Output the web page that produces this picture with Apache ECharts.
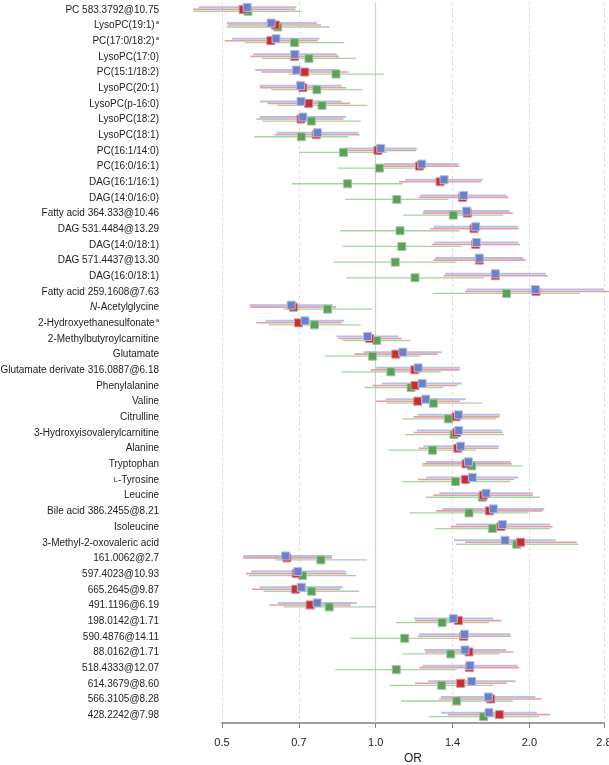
<!DOCTYPE html>
<html><head><meta charset="utf-8">
<script src="https://cdn.jsdelivr.net/npm/echarts@6/dist/echarts.min.js"></script>
<style>html,body{margin:0;padding:0;background:#fff}#c{width:609px;height:765px}</style>
</head><body><div id="c"></div>
<script>
const categories = [
 'PC 583.3792@10.75','LysoPC(19:1)','PC(17:0/18:2)','LysoPC(17:0)','PC(15:1/18:2)','LysoPC(20:1)',
 'LysoPC(p-16:0)','LysoPC(18:2)','LysoPC(18:1)','PC(16:1/14:0)','PC(16:0/16:1)','DAG(16:1/16:1)',
 'DAG(14:0/16:0)','Fatty acid 364.333@10.46','DAG 531.4484@13.29','DAG(14:0/18:1)','DAG 571.4437@13.30',
 'DAG(16:0/18:1)','Fatty acid 259.1608@7.63','N-Acetylglycine','2-Hydroxyethanesulfonate',
 '2-Methylbutyroylcarnitine','Glutamate','Glutamate derivate 316.0887@6.18','Phenylalanine','Valine',
 'Citrulline','3-Hydroxyisovalerylcarnitine','Alanine','Tryptophan','L-Tyrosine','Leucine',
 'Bile acid 386.2455@8.21','Isoleucine','3-Methyl-2-oxovaleric acid','161.0062@2.7','597.4023@10.93',
 '665.2645@9.87','491.1196@6.19','198.0142@1.71','590.4876@14.11','88.0162@1.71','518.4333@12.07',
 '614.3679@8.60','566.3105@8.28','428.2242@7.98'
];
const superscriptA = ['LysoPC(19:1)','PC(17:0/18:2)','2-Hydroxyethanesulfonate'];
const xTickLabels = ['0.5','0.7','1.0','1.4','2.0','2.8'];

const blueEst = [0.560,0.624,0.638,0.694,0.699,0.713,0.714,0.720,0.769,1.023,1.231,1.361,1.487,1.507,1.570,1.575,1.596,1.715,2.054,0.683,0.727,0.964,1.130,1.211,1.233,1.253,1.452,1.454,1.467,1.519,1.546,1.645,1.700,1.773,1.792,0.666,0.704,0.715,0.768,1.419,1.492,1.496,1.530,1.542,1.662,1.667];
const blueLo  = [0.450,0.511,0.523,0.575,0.581,0.592,0.593,0.593,0.640,0.865,1.036,1.142,1.223,1.240,1.297,1.301,1.307,1.367,1.507,0.566,0.608,0.839,0.946,1.002,1.028,1.048,1.209,1.204,1.240,1.255,1.255,1.333,1.351,1.437,1.424,0.550,0.570,0.593,0.643,1.189,1.216,1.246,1.236,1.265,1.341,1.343];
const blueHi  = [0.699,0.767,0.776,0.839,0.849,0.858,0.858,0.874,0.925,1.204,1.452,1.620,1.805,1.827,1.902,1.902,1.946,2.152,2.798,0.824,0.868,1.108,1.347,1.463,1.474,1.500,1.752,1.765,1.744,1.838,1.902,2.030,2.139,2.194,2.251,0.821,0.875,0.862,0.918,1.700,1.838,1.800,1.897,1.880,2.057,2.066];

const redEst = [0.550,0.636,0.623,0.694,0.726,0.720,0.739,0.714,0.765,1.010,1.218,1.337,1.480,1.512,1.558,1.570,1.596,1.715,2.060,0.690,0.706,0.973,1.095,1.193,1.194,1.209,1.437,1.441,1.448,1.503,1.500,1.625,1.670,1.760,1.923,0.670,0.699,0.697,0.744,1.452,1.487,1.523,1.526,1.467,1.680,1.747];
const redLo  = [0.439,0.514,0.506,0.568,0.597,0.593,0.614,0.584,0.634,0.856,1.028,1.111,1.213,1.236,1.278,1.287,1.297,1.357,1.496,0.568,0.584,0.846,0.908,0.978,0.986,1.002,1.186,1.186,1.213,1.235,1.209,1.297,1.313,1.403,1.496,0.550,0.557,0.572,0.620,1.194,1.209,1.250,1.218,1.194,1.331,1.384];
const redHi  = [0.696,0.781,0.770,0.847,0.885,0.874,0.891,0.865,0.930,1.200,1.459,1.608,1.819,1.855,1.908,1.917,1.966,2.171,2.870,0.837,0.858,1.125,1.321,1.459,1.445,1.463,1.747,1.773,1.739,1.847,1.866,2.030,2.123,2.221,2.475,0.821,0.878,0.852,0.894,1.765,1.838,1.860,1.911,1.805,2.113,2.194];

const greenEst = [0.562,0.643,0.693,0.740,0.836,0.767,0.785,0.748,0.715,0.865,1.017,0.881,1.100,1.419,1.116,1.125,1.092,1.194,1.805,0.805,0.759,1.005,0.986,1.071,1.173,1.297,1.388,1.424,1.292,1.542,1.433,1.618,1.523,1.692,1.889,0.781,0.719,0.749,0.811,1.349,1.140,1.403,1.097,1.347,1.441,1.627];
const greenLo  = [0.440,0.510,0.554,0.599,0.675,0.624,0.640,0.599,0.578,0.709,0.842,0.685,0.871,1.133,0.852,0.861,0.827,0.875,1.293,0.660,0.617,0.862,0.794,0.856,0.951,1.048,1.130,1.142,1.059,1.231,1.125,1.253,1.164,1.307,1.437,0.636,0.564,0.603,0.660,1.095,0.894,1.128,0.833,1.064,1.121,1.272];
const greenHi  = [0.717,0.812,0.868,0.914,1.036,0.941,0.961,0.935,0.885,1.051,1.223,1.130,1.388,1.778,1.459,1.474,1.441,1.630,2.512,0.983,0.935,1.168,1.226,1.341,1.357,1.613,1.721,1.784,1.570,1.940,1.833,2.098,1.990,2.194,2.493,0.961,0.916,0.928,1.000,1.667,1.452,1.747,1.441,1.700,1.855,2.088];

const FONT = '"Liberation Sans", Arial, Helvetica, sans-serif';

function ciSeries(name, lo, hi, color, width, dy) {
  return {
    type: 'custom', name: name, silent: true, z: 2,
    data: categories.map((c, i) => [lo[i], hi[i], i]),
    encode: { x: [0, 1], y: 2 },
    renderItem: function (params, api) {
      const a = api.coord([api.value(0), api.value(2)]);
      const b = api.coord([api.value(1), api.value(2)]);
      return { type: 'line', shape: { x1: a[0], y1: a[1] + dy, x2: b[0], y2: b[1] + dy },
               style: { stroke: color, lineWidth: width } };
    }
  };
}
function ptSeries(name, est, color, border, dy) {
  return {
    type: 'scatter', name: name, silent: true, z: 3,
    symbol: 'rect', symbolSize: 8, symbolOffset: [0, dy],
    itemStyle: { color: color, borderColor: border, borderWidth: 1, opacity: 1 },
    data: est.map((v, i) => [v, i])
  };
}

const chart = echarts.init(document.getElementById('c'), null, { renderer: 'canvas' });
const greenPts = ptSeries('green', greenEst, '#5c9f5a', '#9cc99a', 1.5);
greenPts.markLine = { silent: true, symbol: 'none', label: { show: false }, z: 1,
  lineStyle: { color: '#cfcfcf', type: 'solid', width: 1.2 }, data: [{ xAxis: 1 }] };
chart.setOption({
  animation: false,
  backgroundColor: '#ffffff',
  grid: { left: 222, right: 5, top: 2, bottom: 42, containLabel: false, outerBoundsMode: 'none' },
  xAxis: {
    type: 'log', logBase: Math.SQRT2, min: 0.5, max: 2.8,
    name: 'OR', nameLocation: 'middle', nameGap: 29,
    nameTextStyle: { fontSize: 12, color: '#222', fontFamily: FONT },
    axisLine: { show: true, lineStyle: { color: '#808080', width: 1.5 } },
    axisTick: { show: true, length: 5, lineStyle: { color: '#808080', width: 1 } },
    axisLabel: { fontSize: 11, color: '#222', fontFamily: FONT, margin: 14,
      formatter: function (v) { const s = v.toFixed(1); return xTickLabels.indexOf(s) >= 0 ? s : ''; } },
    splitLine: { show: true, lineStyle: { type: [3, 3], color: '#d9d9d9', width: 1 } }
  },
  yAxis: {
    type: 'category', data: categories, inverse: true,
    axisLine: { show: false }, axisTick: { show: false }, splitLine: { show: false },
    axisLabel: {
      margin: 63, interval: 0,
      formatter: function (v) {
        if (v === 'N-Acetylglycine') return '{it|N}{n|-Acetylglycine}';
        if (v === 'L-Tyrosine') return '{sc|L}{n|-Tyrosine}';
        if (superscriptA.indexOf(v) >= 0) return '{n|' + v + '}{sup|a}';
        return '{n|' + v + '}';
      },
      rich: {
        n: { fontSize: 10, color: '#222', fontFamily: FONT, lineHeight: 12 },
        it: { fontSize: 10, color: '#222', fontFamily: FONT, fontStyle: 'italic', lineHeight: 12 },
        sc: { fontSize: 7.5, color: '#222', fontFamily: FONT, lineHeight: 12 },
        sup: { fontSize: 6, color: '#222', fontFamily: FONT, lineHeight: 12, verticalAlign: 'top', padding: [0, 0, 0, 1] }
      }
    }
  },
  series: [
    ciSeries('greenCI', greenLo, greenHi, '#a6d2a6', 1.3, 1.5),
    ciSeries('redCI', redLo, redHi, '#eb9c9c', 1.6, -0.5),
    ciSeries('blueCI', blueLo, blueHi, '#b6bfe8', 2, -2.5),
    greenPts,
    ptSeries('red', redEst, '#c62f31', '#e08a8a', -0.5),
    ptSeries('blue', blueEst, '#6c80c8', '#b3bde6', -2.5)
  ]
});
</script>
</body></html>
